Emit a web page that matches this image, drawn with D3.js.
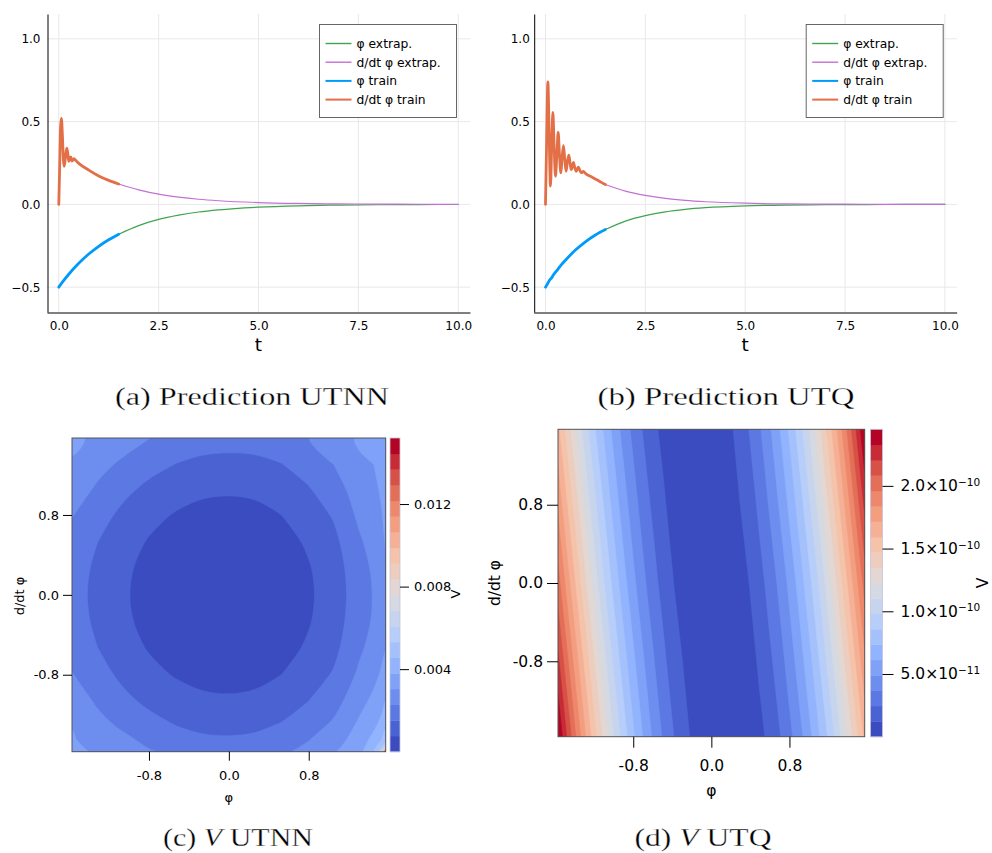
<!DOCTYPE html>
<html>
<head>
<meta charset="utf-8">
<script src="https://cdn.jsdelivr.net/npm/d3@7"></script>
<style>
  body { margin: 0; background: #fff; }
  svg { display: block; }
  text { white-space: pre; }
</style>
</head>
<body>
<svg id="fig" width="992" height="853"></svg>
<script>
// ---------- top row: predictions, points are [t, value] ----------
const tTicks = [0, 2.5, 5, 7.5, 10];
const predTicks = [-0.5, 0, 0.5, 1];
const legendNames = ["φ extrap.", "d/dt φ extrap.", "φ train", "d/dt φ train"];

// (a) UTNN
const nnPhiTrain = [[0, -0.5], [0.1, -0.467], [0.25, -0.422], [0.5, -0.356], [0.75, -0.3],
  [1.0, -0.253], [1.25, -0.214], [1.5, -0.18]];
const nnDphiTrain = [[0, 0], [0.02, 0.2], [0.045, 0.47], [0.065, 0.52], [0.09, 0.42], [0.115, 0.27],
  [0.135, 0.23], [0.165, 0.28], [0.2, 0.34], [0.225, 0.31], [0.25, 0.26], [0.275, 0.275],
  [0.3, 0.287], [0.33, 0.262], [0.38, 0.276], [0.42, 0.266], [0.5, 0.248], [0.75, 0.207],
  [1.0, 0.172], [1.25, 0.145], [1.5, 0.123]];
const nnPhiExtrap = [[1.5, -0.18], [2, -0.128], [2.5, -0.091], [3, -0.065], [3.5, -0.046], [4, -0.033],
  [5, -0.017], [6, -0.0085], [7, -0.0043], [8, -0.0022], [9, -0.0011], [10, -0.0006]];
const nnDphiExtrap = [[1.5, 0.123], [2, 0.088], [2.5, 0.062], [3, 0.044], [3.5, 0.031], [4, 0.022],
  [5, 0.011], [6, 0.0056], [7, 0.0029], [8, 0.0015], [9, 0.0007], [10, 0.0004]];

// (b) UTQ
const qPhiTrain = [[0, -0.5], [0.05, -0.48], [0.1, -0.458], [0.15, -0.445], [0.2, -0.425], [0.3, -0.395],
  [0.4, -0.364], [0.5, -0.337], [0.75, -0.276], [1.0, -0.226], [1.25, -0.185], [1.5, -0.152]];
const qDphiTrain = [[0, 0], [0.03, 0.4], [0.06, 0.74], [0.09, 0.45], [0.125, 0.11], [0.155, 0.35],
  [0.185, 0.555], [0.215, 0.36], [0.25, 0.17], [0.285, 0.3], [0.318, 0.435], [0.35, 0.3],
  [0.385, 0.19], [0.415, 0.28], [0.45, 0.355], [0.48, 0.28], [0.515, 0.2], [0.55, 0.26],
  [0.585, 0.297], [0.615, 0.25], [0.645, 0.21], [0.675, 0.235], [0.7, 0.254], [0.735, 0.22],
  [0.77, 0.2], [0.8, 0.215], [0.825, 0.225], [0.87, 0.2], [0.91, 0.19], [0.95, 0.2], [0.99, 0.19],
  [1.05, 0.178], [1.12, 0.17], [1.2, 0.16], [1.3, 0.147], [1.4, 0.133], [1.5, 0.12]];
const qPhiExtrap = [[1.5, -0.152], [2, -0.101], [2.5, -0.068], [3, -0.045], [3.5, -0.03], [4, -0.02],
  [5, -0.009], [6, -0.004], [7, -0.002], [8, -0.001], [9, -0.0004], [10, -0.0002]];
const qDphiExtrap = [[1.5, 0.12], [2, 0.08], [2.5, 0.054], [3, 0.036], [3.5, 0.024], [4, 0.016],
  [5, 0.0072], [6, 0.0032], [7, 0.0015], [8, 0.0007], [9, 0.0003], [10, 0.0001]];

// ---------- bottom row: V over (φ, d/dt φ), rows listed top (d/dt φ = +π/2) to bottom ----------
const phiTicks = [-0.8, 0, 0.8];
const nLevels = 20;

// (c) UTNN, values in 1e-3
const nnPhiNodes = [-1.571, -1.309, -1.047, -0.785, -0.524, -0.262, 0, 0.262, 0.524, 0.785, 1.047, 1.309, 1.45, 1.53, 1.571];
const nnDphiNodes = [1.571, 1.309, 1.047, 0.785, 0.524, 0.262, 0, -0.262, -0.524, -0.785, -1.047, -1.309, -1.45, -1.53, -1.571];
const nnV = [
  [3.27, 2.81, 2.62, 2.28, 2.03, 1.87, 1.82, 1.86, 2.01, 2.24, 2.74, 3.12, 3.31, 3.42, 3.50],
  [2.93, 2.51, 2.13, 1.76, 1.50, 1.34, 1.29, 1.33, 1.50, 1.82, 2.28, 2.96, 3.04, 3.23, 3.34],
  [2.66, 2.14, 1.67, 1.31, 1.04, 0.88, 0.84, 0.89, 1.08, 1.43, 1.90, 2.66, 2.89, 3.12, 3.27],
  [2.30, 1.78, 1.31, 0.94, 0.68, 0.52, 0.47, 0.54, 0.74, 1.10, 1.57, 2.43, 2.74, 3.00, 3.19],
  [2.03, 1.51, 1.04, 0.68, 0.41, 0.25, 0.21, 0.27, 0.48, 0.84, 1.31, 2.17, 2.58, 2.89, 3.08],
  [1.88, 1.36, 0.89, 0.52, 0.26, 0.10, 0.05, 0.12, 0.33, 0.68, 1.16, 1.99, 2.39, 2.74, 2.93],
  [1.82, 1.31, 0.84, 0.47, 0.21, 0.05, 0.00, 0.07, 0.27, 0.63, 1.10, 1.94, 2.32, 2.58, 2.74],
  [1.88, 1.36, 0.89, 0.52, 0.26, 0.10, 0.05, 0.12, 0.33, 0.68, 1.16, 1.99, 2.36, 2.66, 2.81],
  [2.03, 1.51, 1.04, 0.68, 0.41, 0.25, 0.21, 0.27, 0.48, 0.84, 1.31, 2.14, 2.55, 2.85, 3.00],
  [2.30, 1.78, 1.31, 0.94, 0.68, 0.52, 0.47, 0.54, 0.74, 1.10, 1.57, 2.41, 2.81, 3.12, 3.31],
  [2.66, 2.14, 1.67, 1.31, 1.04, 0.88, 0.84, 0.90, 1.11, 1.47, 1.94, 2.77, 3.19, 3.50, 3.76],
  [3.00, 2.51, 2.14, 1.78, 1.51, 1.35, 1.31, 1.38, 1.58, 1.94, 2.41, 3.19, 3.65, 4.03, 4.41],
  [3.12, 2.66, 2.43, 2.07, 1.80, 1.64, 1.60, 1.66, 1.87, 2.23, 2.70, 3.38, 4.03, 4.56, 5.02],
  [3.27, 2.77, 2.55, 2.24, 1.98, 1.82, 1.77, 1.84, 2.04, 2.40, 2.87, 3.50, 4.33, 5.32, 5.70],
  [3.34, 2.85, 2.62, 2.33, 2.07, 1.91, 1.86, 1.93, 2.14, 2.49, 2.96, 3.57, 4.48, 5.70, 15.2]
];
const nnCbTicks = [0.004, 0.008, 0.012];

// (d) UTQ, values in 1e-11, columns every π/32 from -π/2 to π/2
const qPhiNodes = d3.range(33).map(k => -1.5708 + k * Math.PI / 32);
const qDphiNodes = [1.571, 0, -1.571];
const qV = [
  [16.16, 13.98, 11.96, 10.10, 8.40, 6.85, 5.46, 4.23, 3.16, 2.24, 1.48, 0.88, 0.43, 0.14, 0.01, 0.03,
   0.22, 0.56, 1.05, 1.71, 2.52, 3.48, 4.61, 5.89, 7.33, 8.93, 10.68, 12.59, 14.66, 16.88, 19.26, 21.80, 24.51],
  [20.11, 17.67, 15.40, 13.28, 11.31, 9.50, 7.85, 6.36, 5.03, 3.85, 2.83, 1.96, 1.26, 0.71, 0.31, 0.08,
   0.00, 0.08, 0.31, 0.71, 1.26, 1.96, 2.83, 3.85, 5.03, 6.36, 7.85, 9.50, 11.31, 13.28, 15.40, 17.67, 20.11],
  [24.51, 21.80, 19.26, 16.88, 14.66, 12.59, 10.68, 8.93, 7.33, 5.89, 4.61, 3.48, 2.52, 1.71, 1.05, 0.56,
   0.22, 0.03, 0.01, 0.14, 0.43, 0.88, 1.48, 2.24, 3.16, 4.23, 5.46, 6.85, 8.40, 10.10, 11.96, 13.98, 16.16]
];
const qCbTicks = [5e-11, 1e-10, 1.5e-10, 2e-10];

const captionLabels = ["(a) Prediction UTNN", "(b) Prediction UTQ", "(c) V UTNN", "(d) V UTQ"];

// ---------- drawing ----------
const svg = d3.select("#fig");
svg.append("rect").attr("width", 992).attr("height", 853).attr("fill", "#fff");
const defs = svg.append("defs");

const lineColors = ["#3ea44e", "#c271d2", "#009afa", "#e36f47"];
const lineWidths = [1.2, 1.2, 2.8, 2.8];

const coolwarm = d3.scaleLinear()
  .domain(d3.range(9).map(i => i / 8))
  .range(["#3b4cc0", "#6282ea", "#8db0fe", "#b8d0f9", "#dddcdc", "#f5c4ad", "#f49a7b", "#de604d", "#b40426"]);

function predPanel(ox, yPad, series, id) {
  const top = 14, bottom = 312, w = 423;
  const x = d3.scaleLinear().domain([-0.295, 10.295]).range([ox, ox + w]);
  const y = d3.scaleLinear().domain([-0.65, 1.15]).range([bottom, top]);
  const g = svg.append("g");

  g.append("g").selectAll("line").data(tTicks).join("line")
    .attr("x1", d => x(d)).attr("x2", d => x(d)).attr("y1", top).attr("y2", bottom)
    .attr("stroke", "#e8e8e8");
  g.append("g").selectAll("line").data(predTicks).join("line")
    .attr("x1", ox).attr("x2", ox + w).attr("y1", d => y(d)).attr("y2", d => y(d))
    .attr("stroke", "#e8e8e8");

  const fmt = d3.format(".1f");
  const ax = g.append("g").attr("transform", `translate(0,${bottom + 0.5})`)
    .call(d3.axisBottom(x).tickValues(tTicks).tickFormat(fmt).tickSize(0).tickPadding(9));
  const ay = g.append("g").attr("transform", `translate(${ox + 0.5},0)`)
    .call(d3.axisLeft(y).tickValues(predTicks).tickFormat(fmt).tickSize(0).tickPadding(yPad));
  [ax, ay].forEach(a => {
    a.attr("font-size", 12).attr("font-family", "DejaVu Sans");
    a.select(".domain").attr("stroke", "#000");
    a.selectAll("text").attr("fill", "#000");
  });

  g.append("text").attr("x", ox + w / 2).attr("y", 350.7).attr("text-anchor", "middle")
    .attr("font-family", "DejaVu Sans").attr("font-size", 18.5).text("t");

  defs.append("clipPath").attr("id", id).append("rect")
    .attr("x", ox).attr("y", top).attr("width", w).attr("height", bottom - top);
  const line = d3.line().x(d => x(d[0])).y(d => y(d[1])).curve(d3.curveMonotoneX);
  g.append("g").attr("clip-path", `url(#${id})`)
    .selectAll("path").data(series).join("path")
    .attr("d", line).attr("fill", "none")
    .attr("stroke", (d, i) => lineColors[i]).attr("stroke-width", (d, i) => lineWidths[i])
    .attr("stroke-linejoin", "round").attr("stroke-linecap", "round");

  const leg = g.append("g").attr("transform", `translate(${ox + 272.5},24.5)`)
    .attr("font-family", "DejaVu Sans").attr("font-size", 12.3);
  leg.append("rect").attr("width", 137).attr("height", 93).attr("fill", "#fff").attr("stroke", "#666");
  legendNames.forEach((name, i) => {
    const yy = 19 + i * 18.7;
    leg.append("line").attr("x1", 6).attr("x2", 32).attr("y1", yy).attr("y2", yy)
      .attr("stroke", lineColors[i]).attr("stroke-width", i < 2 ? 1.4 : 2);
    leg.append("text").attr("x", 37).attr("y", yy).attr("dy", "0.35em").text(name);
  });
}

predPanel(47, 7, [nnPhiExtrap, nnDphiExtrap, nnPhiTrain, nnDphiTrain], "clipA");
predPanel(533.7, 4.4, [qPhiExtrap, qDphiExtrap, qPhiTrain, qDphiTrain], "clipB");

// grid index (sample i sits at i + 0.5) -> data coordinate; the outer half cell runs past the frame
function gridScale(nodes) {
  const n = nodes.length;
  const dom = [0], rng = [nodes[0] - (nodes[1] - nodes[0]) / 2];
  nodes.forEach((v, i) => { dom.push(i + 0.5); rng.push(v); });
  dom.push(n); rng.push(nodes[n - 1] + (nodes[n - 1] - nodes[n - 2]) / 2);
  return d3.scaleLinear().domain(dom).range(rng);
}

function sciLabel(sel) {
  sel.each(function(v) {
    const e = Math.floor(Math.log10(v) + 1e-9);
    const m = v / Math.pow(10, e);
    const t = d3.select(this).text(null);
    t.append("tspan").text(m.toFixed(1) + "×10");
    t.append("tspan").attr("dy", "-0.5em").attr("font-size", "0.68em").text("−" + (-e));
  });
}

function contourPanel(p) {
  const xs = d3.scaleLinear().domain([-Math.PI / 2, Math.PI / 2]).range([p.x0, p.x1]);
  const ys = d3.scaleLinear().domain([-Math.PI / 2, Math.PI / 2]).range([p.y1, p.y0]);
  const gx = gridScale(p.phi), gy = gridScale(p.dphi);
  const flat = p.values.flat().map(v => v * p.unit);
  const lo = d3.min(flat), hi = d3.max(flat);
  const thr = d3.range(nLevels).map(k => lo + k * (hi - lo) / nLevels);
  const bands = d3.contours().size([p.phi.length, p.dphi.length]).thresholds(thr)(flat);
  const band = i => coolwarm(i / (nLevels - 1));

  const ringLine = d3.line().curve(p.smooth ? d3.curveCatmullRomClosed.alpha(0.5) : d3.curveLinearClosed);
  const bandPath = mp => mp.coordinates.map(poly => poly.map(ring =>
    ringLine(ring.slice(0, -1).map(([px, py]) => [xs(gx(px)), ys(gy(py))]))).join("")).join("");

  defs.append("clipPath").attr("id", p.id).append("rect")
    .attr("x", p.x0).attr("y", p.y0).attr("width", p.x1 - p.x0).attr("height", p.y1 - p.y0);
  const g = svg.append("g").attr("font-family", "DejaVu Sans");
  const field = g.append("g").attr("clip-path", `url(#${p.id})`);
  field.append("rect").attr("x", p.x0).attr("y", p.y0)
    .attr("width", p.x1 - p.x0).attr("height", p.y1 - p.y0).attr("fill", band(0));
  field.selectAll("path").data(bands).join("path")
    .attr("d", bandPath).attr("fill-rule", "evenodd").attr("fill", (d, i) => band(i))
    .attr("stroke", (d, i) => band(i)).attr("stroke-width", 0.6);
  g.append("rect").attr("x", p.x0).attr("y", p.y0)
    .attr("width", p.x1 - p.x0).attr("height", p.y1 - p.y0)
    .attr("fill", "none").attr("stroke", "#555").attr("stroke-width", 1);

  const fmt = v => d3.format(".1f")(v).replace("−", "-");
  const ax = g.append("g").attr("transform", `translate(0,${p.y1})`)
    .call(d3.axisBottom(xs).tickValues(phiTicks).tickFormat(fmt).tickSize(p.tick).tickPadding(p.xPad));
  const ay = g.append("g").attr("transform", `translate(${p.x0},0)`)
    .call(d3.axisLeft(ys).tickValues(phiTicks).tickFormat(fmt).tickSize(p.tick).tickPadding(p.yPad));

  // colour bar
  const cb = d3.scaleLinear().domain([lo, hi]).range([p.cbY1, p.cbY0]);
  g.append("g").selectAll("rect").data(thr).join("rect")
    .attr("x", p.cbX).attr("width", p.cbW)
    .attr("y", (d, i) => cb(i < nLevels - 1 ? thr[i + 1] : hi))
    .attr("height", (d, i) => cb(d) - cb(i < nLevels - 1 ? thr[i + 1] : hi) + 0.4)
    .attr("fill", (d, i) => band(i));
  g.append("rect").attr("x", p.cbX).attr("y", p.cbY0).attr("width", p.cbW).attr("height", p.cbY1 - p.cbY0)
    .attr("fill", "none").attr("stroke", "#c4c4dc").attr("stroke-width", 0.8);
  const ac = g.append("g").attr("transform", `translate(${p.cbX + p.cbW},0)`)
    .call(d3.axisRight(cb).tickValues(p.cbTicks).tickSize(p.cbTick).tickPadding(p.cbPad)
      .tickFormat(p.cbFmt || (v => v)));
  if (!p.cbFmt) ac.selectAll(".tick text").call(sciLabel);

  [ax, ay, ac].forEach(a => {
    a.attr("font-size", p.font).attr("font-family", "DejaVu Sans");
    a.select(".domain").remove();
    a.selectAll("line").attr("stroke", "#000");
    a.selectAll("text").attr("fill", "#000");
  });

  g.append("text").attr("x", (p.x0 + p.x1) / 2).attr("y", p.xlabY).attr("text-anchor", "middle")
    .attr("font-size", p.font).text("φ");
  g.append("text").attr("transform", `translate(${p.ylabX},${p.ylabY}) rotate(-90)`)
    .attr("text-anchor", "middle").attr("font-size", p.font).text("d/dt φ");
  g.append("text").attr("transform", `translate(${p.vX},${p.vY}) rotate(-90)`)
    .attr("text-anchor", "middle").attr("font-size", p.font).text("V");
}

contourPanel({
  id: "clipC", x0: 72, x1: 385.7, y0: 438, y1: 751.7, smooth: true,
  phi: nnPhiNodes, dphi: nnDphiNodes, values: nnV, unit: 1e-3,
  cbX: 390, cbW: 10, cbY0: 438, cbY1: 751.7, cbTicks: nnCbTicks, cbFmt: d3.format(".3f"),
  font: 13, tick: 9, xPad: 10, yPad: 4, cbTick: 9, cbPad: 5,
  xlabY: 802, ylabX: 24, ylabY: 596, vX: 460, vY: 594
});
contourPanel({
  id: "clipD", x0: 558, x1: 864.7, y0: 429.3, y1: 736.7, smooth: false,
  phi: qPhiNodes, dphi: qDphiNodes, values: qV, unit: 1e-11,
  cbX: 870.5, cbW: 12, cbY0: 429.3, cbY1: 736.7, cbTicks: qCbTicks, cbFmt: null,
  font: 15.5, tick: 11, xPad: 12, yPad: 4, cbTick: 11, cbPad: 7,
  xlabY: 796, ylabX: 500, ylabY: 583, vX: 988, vY: 583
});

// ---------- captions (thin white outline keeps the stretched serif light) ----------
const captionPos = [[252, 405, 274], [726, 405, 257], [238, 846, 150], [703, 846, 137]];
captionLabels.forEach((label, i) => {
  const [cx, cy, w] = captionPos[i];
  const t = svg.append("text").attr("x", cx).attr("y", cy).attr("text-anchor", "middle")
    .attr("font-family", "Liberation Serif").attr("font-size", 25)
    .attr("stroke", "#fff").attr("stroke-width", 0.3)
    .attr("textLength", w).attr("lengthAdjust", "spacingAndGlyphs");
  label.split(/(\bV\b)/).forEach(part => {
    if (!part) return;
    t.append("tspan").attr("font-style", part === "V" ? "italic" : "normal").text(part);
  });
});
</script>
</body>
</html>
